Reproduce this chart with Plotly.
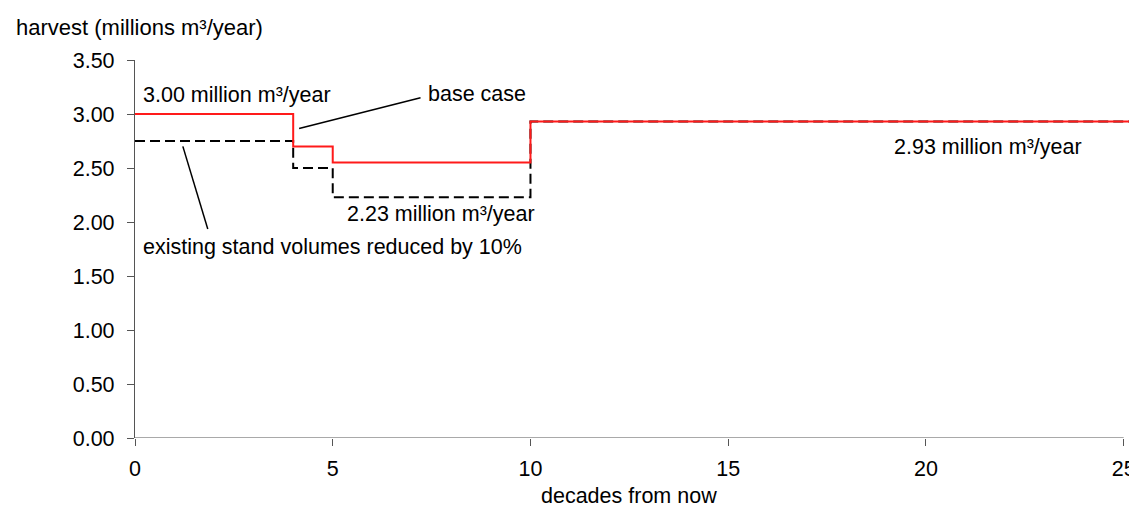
import plotly.graph_objects as go

# Data
decades = [0, 4, 5, 10, 25.16]
base_case = [3.00, 2.70, 2.55, 2.93, 2.93]
reduced_10pct = [2.75, 2.50, 2.23, 2.93, 2.93]
y_ticks = [0, 0.5, 1.0, 1.5, 2.0, 2.5, 3.0, 3.5]
x_ticks = [0, 5, 10, 15, 20, 25]

FONT = "Liberation Sans, Arial, sans-serif"
FS = 21.5

fig = go.Figure()
fig.add_trace(go.Scatter(
    x=decades, y=reduced_10pct, mode="lines", line_shape="hv",
    line=dict(color="black", width=2, dash="10px,5px"),
    name="existing stand volumes reduced by 10%", hoverinfo="skip"))
fig.add_trace(go.Scatter(
    x=decades, y=base_case, mode="lines", line_shape="hv",
    line=dict(color="#ff1a1a", width=2),
    name="base case", hoverinfo="skip"))

ann_font = dict(family=FONT, size=FS, color="black")
annotations = [
    dict(x=0.16, y=3.18, text="3.00 million m³/year"),
    dict(x=7.35, y=3.188, text="base case"),
    dict(x=0.15, y=1.77, text="existing stand volumes reduced by 10%"),
    dict(x=5.30, y=2.07, text="2.23 million m³/year"),
    dict(x=19.15, y=2.697, text="2.93 million m³/year"),
]
for a in annotations:
    fig.add_annotation(x=a["x"], y=a["y"], text=a["text"], xref="x", yref="y",
                       xanchor="left", yanchor="middle", showarrow=False, font=ann_font)

# leader lines
fig.add_shape(type="line", x0=4.15, y0=2.865, x1=7.22, y1=3.15,
              xref="x", yref="y", line=dict(color="black", width=1.5))
fig.add_shape(type="line", x0=1.21, y0=2.70, x1=1.84, y1=1.935,
              xref="x", yref="y", line=dict(color="black", width=1.5))
# x axis line up to 25
fig.add_shape(type="line", x0=0, y0=0, x1=25, y1=0, xref="x", yref="y",
              line=dict(color="#555555", width=1.2), layer="above")

# axis titles as annotations
fig.add_annotation(x=-0.1219, y=1.0847, xref="paper", yref="paper",
                   text="harvest (millions m³/year)", showarrow=False,
                   xanchor="left", yanchor="middle",
                   font=dict(family=FONT, size=22, color="black"))
fig.add_annotation(x=0.4965, y=-0.153, xref="paper", yref="paper",
                   text="decades from now", showarrow=False,
                   xanchor="center", yanchor="middle", font=ann_font)

fig.update_layout(
    width=1137, height=512,
    margin=dict(l=127, r=9, t=52, b=82),
    paper_bgcolor="white", plot_bgcolor="white",
    showlegend=False,
    font=dict(family=FONT, size=FS, color="black"),
)
fig.update_xaxes(
    range=[0, 25.16], tickvals=x_ticks, ticktext=[str(v) for v in x_ticks],
    showgrid=False, zeroline=False, showline=False,
    ticks="outside", ticklen=7, tickcolor="#555555", tickwidth=1.2,
    ticklabelstandoff=4, tickfont=dict(family=FONT, size=FS, color="black"),
)
fig.update_yaxes(
    range=[0, 3.5], tickvals=y_ticks, tickformat=".2f",
    showgrid=False, zeroline=False, showline=True, linecolor="#555555", linewidth=1.2,
    ticks="outside", ticklen=7, tickcolor="#555555", tickwidth=1.2,
    ticklabelstandoff=8, tickfont=dict(family=FONT, size=FS, color="black"),
)

fig.write_html("out.html")
